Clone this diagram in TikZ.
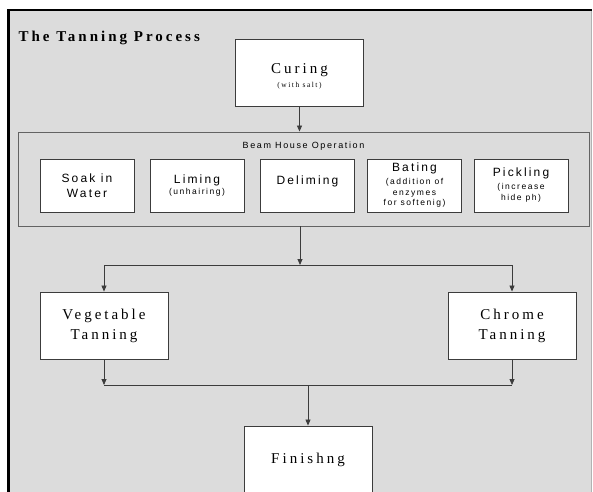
\documentclass[tikz,border=0pt]{standalone}
\usepackage{fontspec}
\usetikzlibrary{arrows.meta}
\newfontfamily\serifsp[LetterSpace=20]{Liberation Serif}
\newfontfamily\sanssp[LetterSpace=18]{Liberation Sans}
\newcommand\subnote[1]{{\fontsize{8.5}{10.5}\selectfont #1}}
\definecolor{panel}{RGB}{220,220,220}
\definecolor{edge}{RGB}{60,60,60}
\begin{document}
\begin{tikzpicture}[x=1pt,y=-1pt,
	stage/.style={draw=edge,line width=0.9pt,fill=white,minimum width=128pt,minimum height=67pt,inner sep=0pt,align=center,font=\serifsp\fontsize{15}{20}\selectfont},
	substep/.style={draw=edge,line width=0.9pt,fill=white,minimum width=94pt,minimum height=53pt,inner sep=0pt,align=center,font=\sanssp\fontsize{12}{15}\selectfont},
	arr/.style={draw=edge,line width=0.8pt,-{Triangle[length=6pt,width=5pt]}},
	flow/.style={draw=edge,line width=0.8pt}]
	\useasboundingbox (0,0) rectangle (593,491);
	\fill[panel] (8,10) rectangle (592,495);
	\draw[gray!60,line width=0.6pt] (591.5,10) -- (591.5,495);
	\draw[black,line width=2.5pt] (7,10) -- (592,10);
	\draw[black,line width=3pt] (8,9) -- (8,495);
	\node[anchor=west,font=\serifsp\bfseries\fontsize{15}{18}\selectfont] (title) at (15,38) {The Tanning Process};

	\node[stage] (curing) at (299.5,72.5) {\rule{0pt}{17pt}Curing\\[-6pt]{\fontsize{7.5}{9}\selectfont(with salt)}};
	\node[draw=edge!80,line width=0.9pt,minimum width=571pt,minimum height=94pt,inner sep=0pt] (beam) at (303.5,179) {};
	\node[font=\sanssp\fontsize{9}{11}\selectfont] (beamlabel) at (303.5,146) {Beam House Operation};
	\node[substep] (soak) at (87,185.5) {Soak in\\Water};
	\node[substep] (liming) at (197,185.5) {Liming\\[-4pt]\subnote{(unhairing)}};
	\node[substep] (deliming) at (307.5,185.5) {Deliming\\[-4pt]\mbox{}};
	\node[substep] (bating) at (414.5,185.5) {Bating\\[-2pt]\subnote{(addition of}\\[-4.5pt]\subnote{enzymes}\\[-4.5pt]\subnote{for softenig)}};
	\node[substep] (pickling) at (521,185.5) {Pickling\\[-2pt]\subnote{(increase}\\[-4pt]\subnote{hide ph)}};

	\node[stage] (veg) at (104,325.5) {Vegetable\\Tanning};
	\node[stage] (chrome) at (512,325.5) {Chrome\\Tanning};
	\node[stage] (finish) at (308,459.5) {Finishng};

	\coordinate (split) at (300,265);
	\coordinate (join) at (308,385);
	\draw[arr] (curing.south) -- (beam.north -| curing.south);
	\draw[arr] (beam.south -| split) -- (split);
	\draw[arr] (split) -| (veg.north);
	\draw[arr] (split) -| (chrome.north);
	\draw[arr] (veg.south) -- (veg.south |- join);
	\draw[arr] (chrome.south) -- (chrome.south |- join);
	\draw[flow] (veg.south |- join) -- (chrome.south |- join);
	\draw[arr] (join) -- (finish.north);
\end{tikzpicture}
\end{document}
